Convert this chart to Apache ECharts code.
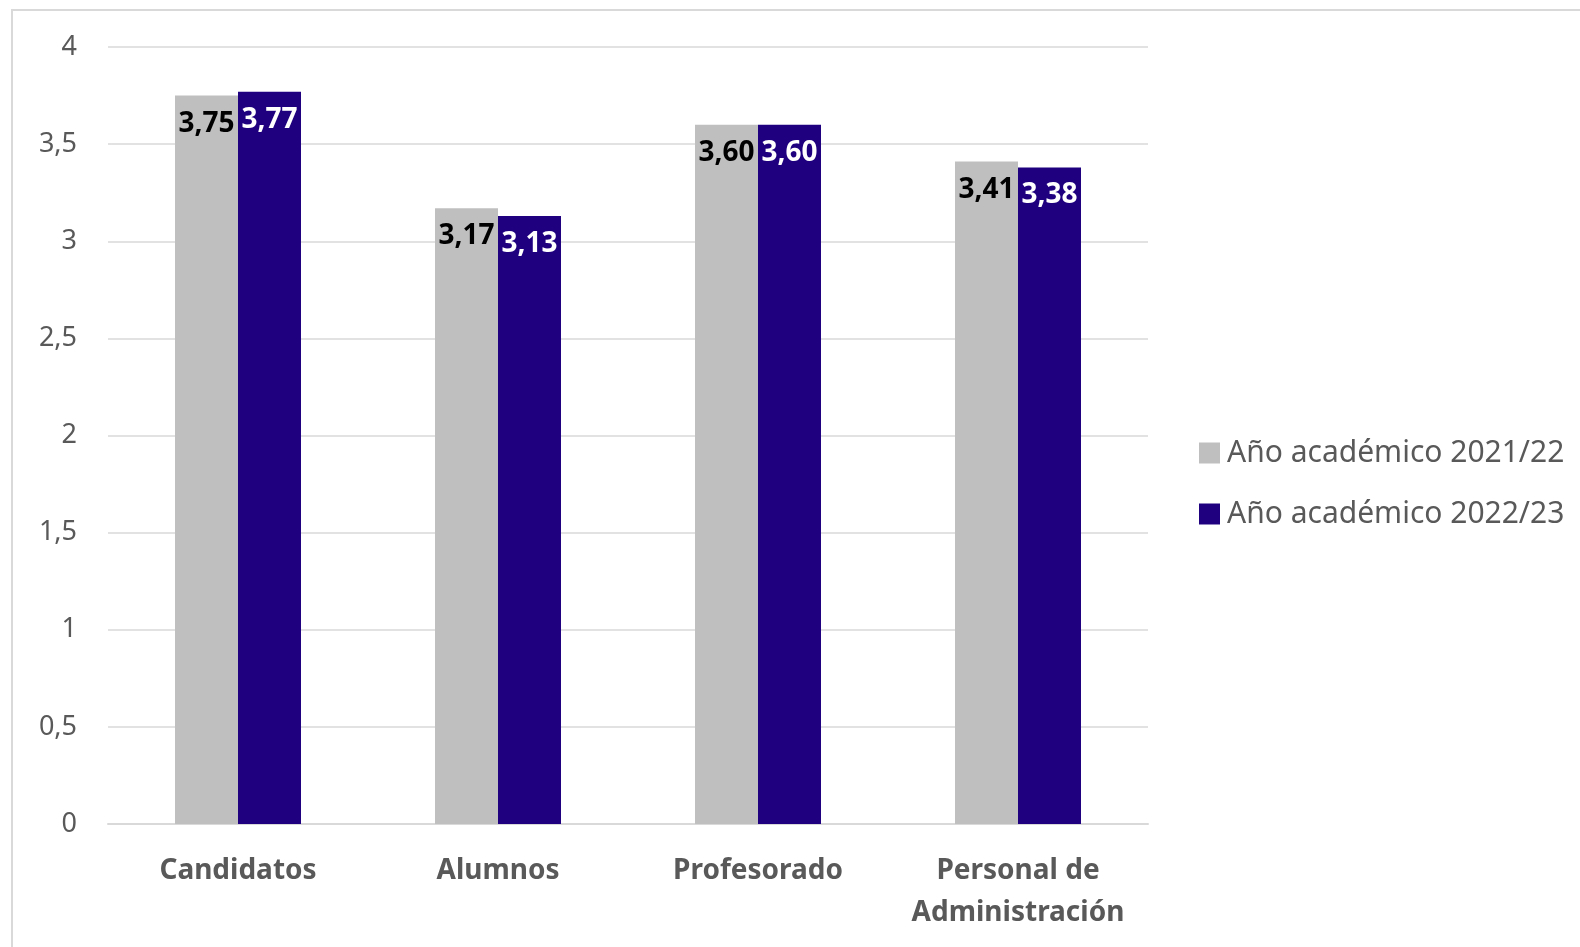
<!DOCTYPE html>
<html><head><meta charset="utf-8">
<script src="https://cdn.jsdelivr.net/npm/echarts@6/dist/echarts.min.js"></script>
<style>
html,body{margin:0;padding:0;background:#fff;overflow:hidden;width:1580px;height:947px}
#frame{position:absolute;left:11px;top:9px;width:1569px;height:938px;border-top:2px solid #d9d9d9;border-left:2px solid #d9d9d9;box-sizing:border-box}
#chart{position:absolute;left:0;top:0;width:1580px;height:947px}
</style></head>
<body>
<div id="frame"></div><div id="chart"></div>
<script>
var categories = ['Candidatos', 'Alumnos', 'Profesorado', 'Personal de\nAdministración'];
var seriesNames = ['Año académico 2021/22', 'Año académico 2022/23'];
var values2122 = [3.75, 3.17, 3.60, 3.41];
var values2223 = [3.77, 3.13, 3.60, 3.38];
var yTicks = [0, 0.5, 1, 1.5, 2, 2.5, 3, 3.5, 4];

var font = 'Noto Sans';
var chart = echarts.init(document.getElementById('chart'));
function fmt(v){ return String(v).replace('.', ','); }
chart.setOption({
  animation: false,
  grid: {left: 108, right: 432, top: 47, bottom: 123},
  legend: {
    orient: 'vertical', left: 1194, top: 433, itemWidth: 21, itemHeight: 21, itemGap: 31,
    icon: 'rect',
    textStyle: {fontFamily: font, fontSize: 30, color: '#595959', padding: [0,0,0,2]},
    data: seriesNames
  },
  xAxis: {
    type: 'category', data: categories,
    axisLine: {lineStyle: {color: '#d9d9d9', width: 2}},
    axisTick: {show: false},
    axisLabel: {fontFamily: font, fontSize: 28, fontWeight: 'bold', color: '#595959', margin: 26, lineHeight: 42, interval: 0}
  },
  yAxis: {
    type: 'value', min: 0, max: 4, interval: 0.5,
    axisLine: {show: false}, axisTick: {show: false},
    splitLine: {lineStyle: {color: '#d9d9d9', width: 1.5}},
    axisLabel: {fontFamily: font, fontSize: 27, color: '#595959', margin: 31,
      formatter: function(v){ return yTicks.indexOf(v) >= 0 ? fmt(v) : ''; }}
  },
  series: [
    {name: seriesNames[0], type: 'bar', data: values2122, barWidth: 63, barGap: '0%',
     itemStyle: {color: '#bfbfbf'},
     label: {show: true, position: 'insideTop', distance: 14, fontFamily: font, fontSize: 28, fontWeight: 'bold', color: '#000',
       formatter: function(p){ return p.value.toFixed(2).replace('.', ','); }}},
    {name: seriesNames[1], type: 'bar', data: values2223, barWidth: 63,
     itemStyle: {color: '#1f007f'},
     label: {show: true, position: 'insideTop', distance: 14, fontFamily: font, fontSize: 28, fontWeight: 'bold', color: '#fff',
       formatter: function(p){ return p.value.toFixed(2).replace('.', ','); }}}
  ]
});
</script>
</body></html>
